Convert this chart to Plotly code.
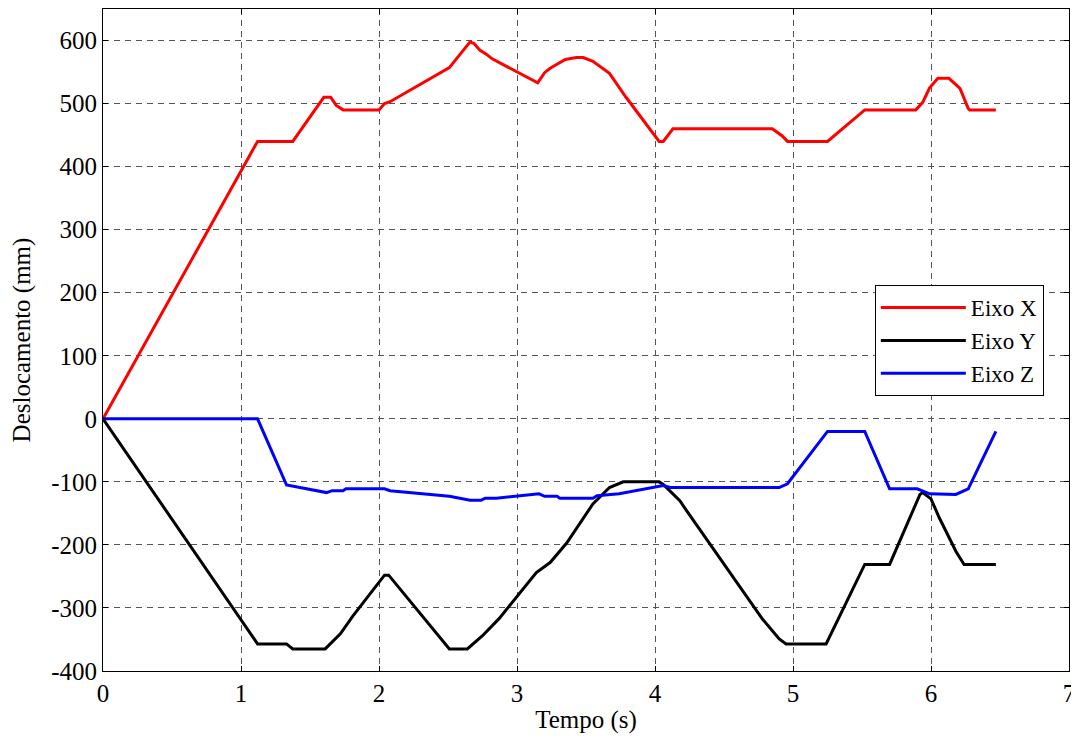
import plotly.graph_objects as go

# Eixo X (red)
tx = [0, 1.12, 1.375, 1.6, 1.65, 1.69, 1.74, 2.0, 2.04, 2.08, 2.51, 2.66, 2.69, 2.73, 2.78, 2.82, 3.15, 3.2, 3.24,
      3.35, 3.43, 3.48, 3.55, 3.67, 3.79, 4.03, 4.06, 4.13, 4.85, 4.92, 4.96, 5.25, 5.52, 5.89, 5.94, 5.99,
      6.05, 6.13, 6.21, 6.27, 6.28, 6.47]
vx = [0, 440, 440, 510, 510, 497, 490, 490, 500, 503, 557, 598, 595, 585, 578, 571, 533, 549, 556,
      570, 573, 573, 567, 548, 510, 440, 440, 460, 460, 449, 440, 440, 490, 490, 502, 525,
      540, 540, 524, 492, 490, 490]

# Eixo Y (black)
ty = [0, 1.12, 1.33, 1.375, 1.61, 1.67, 1.72, 1.81, 2.04, 2.07, 2.51, 2.64, 2.68, 2.75, 2.87, 3.14, 3.24, 3.36,
      3.55, 3.67, 3.77, 4.03, 4.06, 4.18, 4.23, 4.78, 4.90, 4.95, 5.24, 5.52, 5.70, 5.92, 5.94, 6.00,
      6.06, 6.18, 6.24, 6.47]
vy = [0, -357, -357, -365, -365, -352, -341, -313, -248, -248, -365, -365, -357, -344, -317, -244, -228, -197,
      -135, -109, -100, -100, -104, -130, -146, -318, -349, -357, -357, -231, -231, -120, -117, -127,
      -157, -210, -231, -231]

# Eixo Z (blue)
tz = [0, 1.12, 1.33, 1.62, 1.66, 1.74, 1.76, 2.04, 2.08, 2.51, 2.66, 2.74, 2.77, 2.85, 3.16, 3.20, 3.29, 3.31,
      3.55, 3.58, 3.74, 3.79, 4.06, 4.11, 4.90, 4.96, 5.25, 5.52, 5.70, 5.90, 5.99, 6.18, 6.27, 6.47]
vz = [0, 0, -105, -117, -114, -114, -111, -111, -114, -123, -129, -129, -126, -126, -119, -123, -123, -126,
      -126, -122, -119, -117, -106, -109, -109, -103, -20, -20, -111, -111, -119, -120, -111, -20]

x_ticks = [0, 1, 2, 3, 4, 5, 6, 7]
y_ticks = [-400, -300, -200, -100, 0, 100, 200, 300, 400, 500, 600]
y_ticklabels = [str(v) for v in y_ticks]

series = [("Eixo X", tx, vx, "#ff0000"), ("Eixo Y", ty, vy, "#000000"), ("Eixo Z", tz, vz, "#0000ff")]

FONT = "Liberation Serif"
FS = 25

fig = go.Figure()
for name, t, v, c in series:
    fig.add_trace(go.Scatter(x=t, y=v, mode="lines", name=name, line=dict(color=c, width=3)))

axis_common = dict(
    showline=True, linecolor="black", linewidth=1, mirror="ticks",
    ticks="inside", ticklen=5, tickcolor="black",
    showgrid=True, gridcolor="#555555", griddash="6px,5px", gridwidth=1,
    zeroline=False, automargin=False,
    tickfont=dict(family=FONT, size=FS, color="black"),
)

# page body has an 8px default margin, so the figure is sized/offset to compensate
fig.update_layout(
    width=1071, height=735,
    margin=dict(l=95, r=10, t=1, b=72, autoexpand=False),
    paper_bgcolor="white", plot_bgcolor="white",
    font=dict(family=FONT, size=FS, color="black"),
    xaxis=dict(range=[0, 7], tickvals=x_ticks, ticktext=[str(v) for v in x_ticks],
               title=dict(text="Tempo (s)", standoff=4, font=dict(family=FONT, size=FS)), **axis_common),
    yaxis=dict(range=[-400, 650], tickvals=y_ticks, ticktext=y_ticklabels,
               title=dict(text="Deslocamento (mm)", standoff=13, font=dict(family=FONT, size=FS)), **axis_common),
    legend=dict(x=0.799, y=0.583, xanchor="left", yanchor="top",
                bordercolor="black", borderwidth=1, bgcolor="white", itemwidth=85,
                font=dict(family=FONT, size=23), tracegroupgap=0),
    showlegend=True,
)

fig.write_html("out.html")
